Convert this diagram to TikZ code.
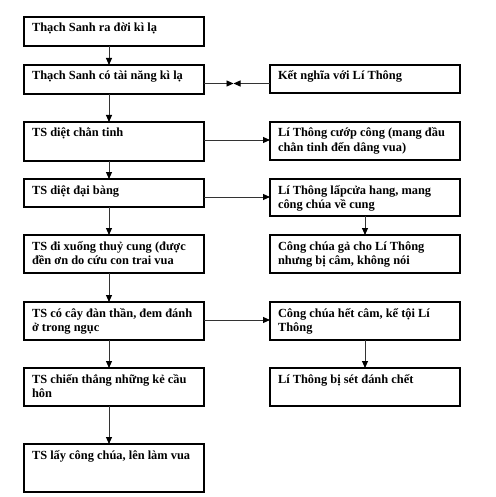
\documentclass[tikz,border=0pt]{standalone}
\usepackage{fontspec}
\setmainfont{Liberation Serif}
\usetikzlibrary{arrows.meta}
\tikzset{
  box/.style={draw=black, line width=1.1pt, anchor=north west, inner xsep=8pt, inner ysep=4pt, outer sep=0pt, font=\bfseries\fontsize{12.4}{14}\selectfont},
  arr/.style={draw=black!80, line width=0.9pt, -{Triangle[length=7pt,width=6pt,fill=black,color=black]}}
}
\newcommand{\mybox}[6]{%
  \node[box] (#1) at (#2,#3) {\parbox[c][\dimexpr#5pt-8pt\relax][t]{\dimexpr#4pt-16pt\relax}{\raggedright\hbadness=10000\hfuzz=30pt\rule{0pt}{11pt}#6}};}
\begin{document}
\begin{tikzpicture}[x=1pt,y=-1pt]
\useasboundingbox (0,0) rectangle (495,497);
% left column
\mybox{b1}{24}{17}{180}{29}{Thạch Sanh ra đời kì lạ}
\mybox{b2}{24}{65}{180}{29}{Thạch Sanh có tài năng kì lạ}
\mybox{b3}{24}{122}{180}{39}{TS diệt chằn tinh}
\mybox{b4}{24}{179}{180}{28}{TS diệt đại bàng}
\mybox{b5}{24}{235}{180}{38}{\mbox{TS đi xuống thuỷ cung (được}\\đền ơn do cứu con trai vua}
\mybox{b6}{24}{302}{180}{38}{\mbox{TS có cây đàn thần, đem đánh}\\ở trong ngục}
\mybox{b7}{24}{368}{180}{38}{\mbox{TS chiến thắng những kẻ cầu}\\hôn}
\mybox{b8}{24}{444}{180}{48}{TS lấy công chúa, lên làm vua}
% right column
\mybox{r1}{270}{65}{190}{28}{Kết nghĩa với Lí Thông}
\mybox{r2}{270}{122}{190}{38}{\mbox{Lí Thông cướp công (mang đầu}\\chằn tinh đến dâng vua)}
\mybox{r3}{270}{179}{190}{37}{\mbox{Lí Thông lấpcửa hang, mang}\\công chúa về cung}
\mybox{r4}{270}{235}{190}{38}{\mbox{Công chúa gả cho Lí Thông}\\nhưng bị câm, không nói}
\mybox{r5}{270}{302}{190}{38}{\mbox{Công chúa hết câm, kể tội Lí}\\Thông}
\mybox{r6}{270}{368}{190}{38}{Lí Thông bị sét đánh chết}
% vertical arrows left
\foreach \a/\b in {b1/b2,b2/b3,b3/b4,b4/b5,b5/b6,b6/b7,b7/b8}
  \draw[arr] ([xshift=-5pt]\a.south) -- ([xshift=-5pt]\b.north);
% vertical arrows right
\draw[arr] (r3.south) -- (r4.north);
\draw[arr] (r5.south) -- (r6.north);
% horizontal
\coordinate (m) at (233.5,83.5);
\draw[arr] (b2.east |- m) -- (m);
\draw[arr] (r1.west |- m) -- (m);
\draw[arr] (b3.east |- 0,140) -- (r2.west |- 0,140);
\draw[arr] (b4.east |- 0,197) -- (r3.west |- 0,197);
\draw[arr] (b6.east |- 0,320) -- (r5.west |- 0,320);
\end{tikzpicture}
\end{document}
